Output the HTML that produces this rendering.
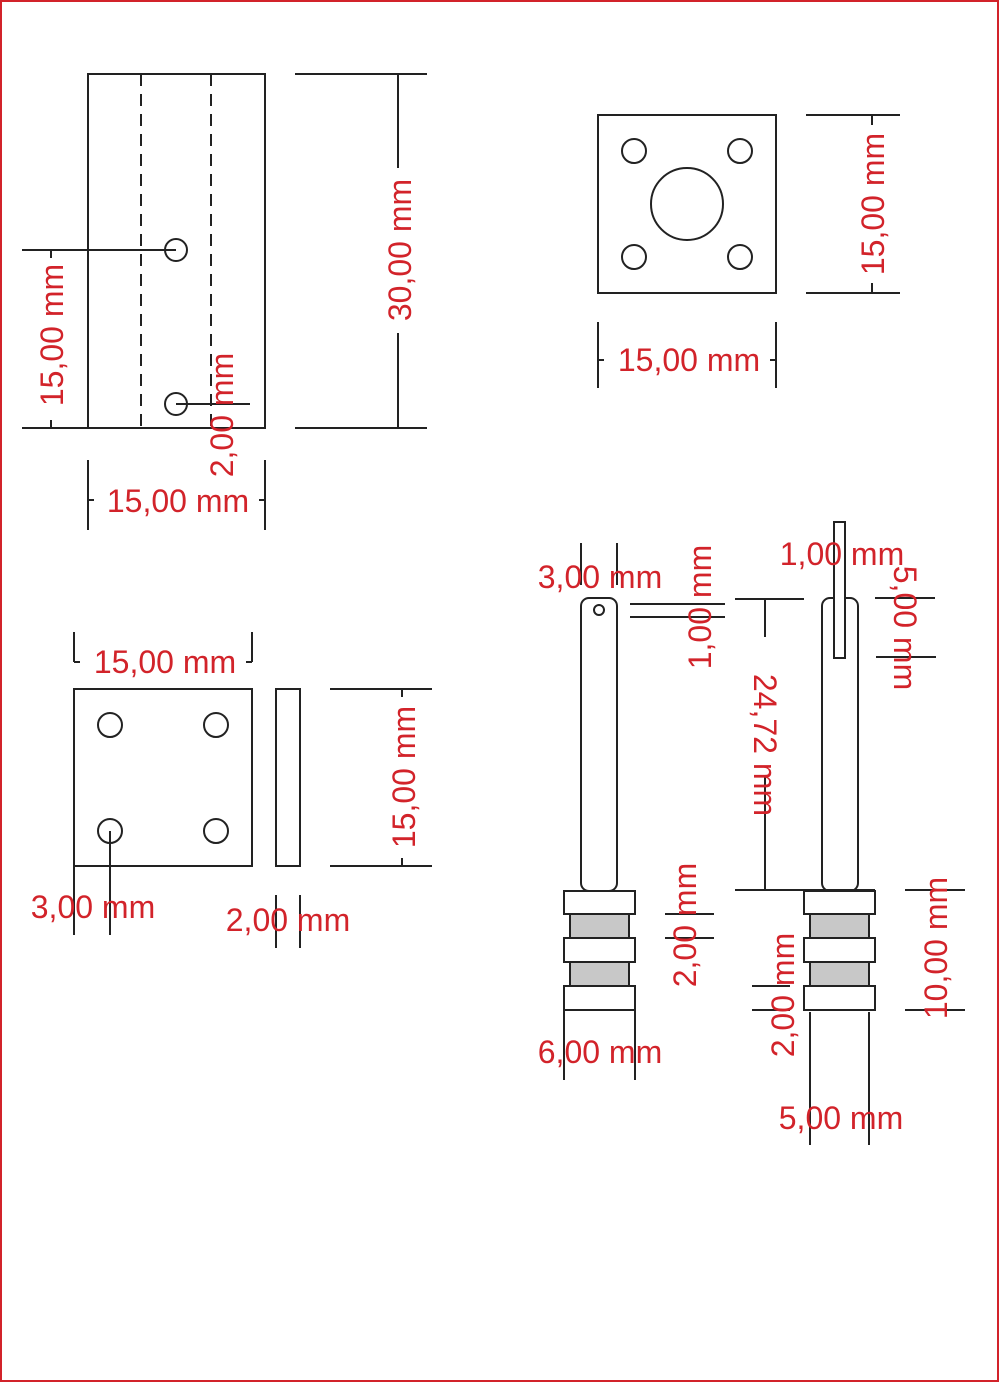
<!DOCTYPE html>
<html><head><meta charset="utf-8"><style>html,body{margin:0;padding:0;background:#fff}svg{display:block}</style></head>
<body>
<svg width="1000" height="1383" viewBox="0 0 1000 1383" xmlns="http://www.w3.org/2000/svg">
<rect x="1" y="1" width="997" height="1380" fill="#fff" stroke="#d2232a" stroke-width="2"/>
<g stroke="#222" stroke-width="2" fill="none">
<!-- top-left -->
<rect x="88" y="74" width="177" height="354"/>
<line x1="141" y1="74" x2="141" y2="428" stroke-dasharray="12,8"/>
<line x1="211" y1="74" x2="211" y2="428" stroke-dasharray="12,8"/>
<circle cx="176" cy="250" r="11"/><circle cx="176" cy="404" r="11"/>
<line x1="22" y1="250" x2="176" y2="250"/><line x1="22" y1="428" x2="88" y2="428"/>
<line x1="51" y1="250" x2="51" y2="258"/><line x1="51" y1="420" x2="51" y2="428"/>
<line x1="176" y1="404" x2="250" y2="404"/>
<line x1="295" y1="74" x2="427" y2="74"/><line x1="295" y1="428" x2="427" y2="428"/>
<line x1="398" y1="74" x2="398" y2="168"/><line x1="398" y1="333" x2="398" y2="428"/>
<line x1="88" y1="460" x2="88" y2="530"/><line x1="265" y1="460" x2="265" y2="530"/>
<line x1="88" y1="500" x2="94" y2="500"/><line x1="259" y1="500" x2="265" y2="500"/>
<!-- top-right -->
<rect x="598" y="115" width="178" height="178"/>
<circle cx="634" cy="151" r="12"/><circle cx="740" cy="151" r="12"/>
<circle cx="634" cy="257" r="12"/><circle cx="740" cy="257" r="12"/>
<circle cx="687" cy="204" r="36"/>
<line x1="806" y1="115" x2="900" y2="115"/><line x1="806" y1="293" x2="900" y2="293"/>
<line x1="872" y1="115" x2="872" y2="125"/><line x1="872" y1="283" x2="872" y2="293"/>
<line x1="598" y1="322" x2="598" y2="388"/><line x1="776" y1="322" x2="776" y2="388"/>
<line x1="598" y1="360" x2="604" y2="360"/><line x1="770" y1="360" x2="776" y2="360"/>
<!-- middle-left -->
<rect x="74" y="689" width="178" height="177"/>
<circle cx="110" cy="725" r="12"/><circle cx="216" cy="725" r="12"/>
<circle cx="110" cy="831" r="12"/><circle cx="216" cy="831" r="12"/>
<line x1="74" y1="632" x2="74" y2="662"/><line x1="252" y1="632" x2="252" y2="662"/>
<line x1="74" y1="662" x2="80" y2="662"/><line x1="246" y1="662" x2="252" y2="662"/>
<rect x="276" y="689" width="24" height="177"/>
<line x1="330" y1="689" x2="432" y2="689"/><line x1="330" y1="866" x2="432" y2="866"/>
<line x1="402" y1="689" x2="402" y2="697"/><line x1="402" y1="858" x2="402" y2="866"/>
<line x1="74" y1="866" x2="74" y2="935"/><line x1="110" y1="831" x2="110" y2="935"/>
<line x1="276" y1="895" x2="276" y2="948"/><line x1="300" y1="895" x2="300" y2="948"/>
<!-- pin 1 -->
<rect x="581" y="598" width="36" height="293" rx="8"/>
<circle cx="599" cy="610" r="5"/>
<line x1="630" y1="604" x2="725" y2="604"/><line x1="630" y1="617" x2="725" y2="617"/>
<line x1="581" y1="543" x2="581" y2="585"/><line x1="617" y1="543" x2="617" y2="585"/>
<rect x="570" y="914" width="59" height="24" fill="#c8c8c8"/>
<rect x="570" y="962" width="59" height="24" fill="#c8c8c8"/>
<rect x="564" y="891" width="71" height="23" fill="#fff"/>
<rect x="564" y="938" width="71" height="24" fill="#fff"/>
<rect x="564" y="986" width="71" height="24" fill="#fff"/>
<line x1="665" y1="914" x2="714" y2="914"/><line x1="665" y1="938" x2="714" y2="938"/>
<line x1="564" y1="1010" x2="564" y2="1080"/><line x1="635" y1="1010" x2="635" y2="1080"/>
<!-- 24,72 -->
<line x1="735" y1="599" x2="804" y2="599"/><line x1="735" y1="890" x2="875" y2="890"/>
<line x1="765" y1="599" x2="765" y2="637"/><line x1="765" y1="777" x2="765" y2="890"/>
<!-- pin 2 -->
<rect x="822" y="598" width="36" height="293" rx="8"/>
<rect x="834" y="522" width="11" height="136" fill="#fff"/>
<line x1="875" y1="598" x2="935" y2="598"/><line x1="876" y1="657" x2="936" y2="657"/>
<rect x="810" y="914" width="59" height="24" fill="#c8c8c8"/>
<rect x="810" y="962" width="59" height="24" fill="#c8c8c8"/>
<rect x="804" y="891" width="71" height="23" fill="#fff"/>
<rect x="804" y="938" width="71" height="24" fill="#fff"/>
<rect x="804" y="986" width="71" height="24" fill="#fff"/>
<line x1="905" y1="890" x2="965" y2="890"/><line x1="905" y1="1010" x2="965" y2="1010"/>
<line x1="752" y1="986" x2="790" y2="986"/><line x1="752" y1="1010" x2="790" y2="1010"/>
<line x1="810" y1="1012" x2="810" y2="1145"/><line x1="869" y1="1012" x2="869" y2="1145"/>
</g>
<g fill="#d2232a" font-family="Liberation Sans, sans-serif" font-size="32" text-anchor="middle">
<text x="52" y="346" transform="rotate(-90 52 335)">15,00 mm</text>
<text x="222" y="426" transform="rotate(-90 222 415)">2,00 mm</text>
<text x="400" y="261" transform="rotate(-90 400 250)">30,00 mm</text>
<text x="178" y="512">15,00 mm</text>
<text x="873" y="215" transform="rotate(-90 873 204)">15,00 mm</text>
<text x="689" y="371">15,00 mm</text>
<text x="165" y="673">15,00 mm</text>
<text x="404" y="788" transform="rotate(-90 404 777)">15,00 mm</text>
<text x="93" y="918">3,00 mm</text>
<text x="288" y="931">2,00 mm</text>
<text x="600" y="588">3,00 mm</text>
<text x="700" y="618" transform="rotate(-90 700 607)">1,00 mm</text>
<text x="685" y="936" transform="rotate(-90 685 925)">2,00 mm</text>
<text x="600" y="1063">6,00 mm</text>
<text x="765" y="756" transform="rotate(90 765 745)">24,72 mm</text>
<text x="842" y="565">1,00 mm</text>
<text x="905" y="639" transform="rotate(90 905 628)">5,00 mm</text>
<text x="936" y="959" transform="rotate(-90 936 948)">10,00 mm</text>
<text x="783" y="1006" transform="rotate(-90 783 995)">2,00 mm</text>
<text x="841" y="1129">5,00 mm</text>
</g>
</svg>
</body></html>
